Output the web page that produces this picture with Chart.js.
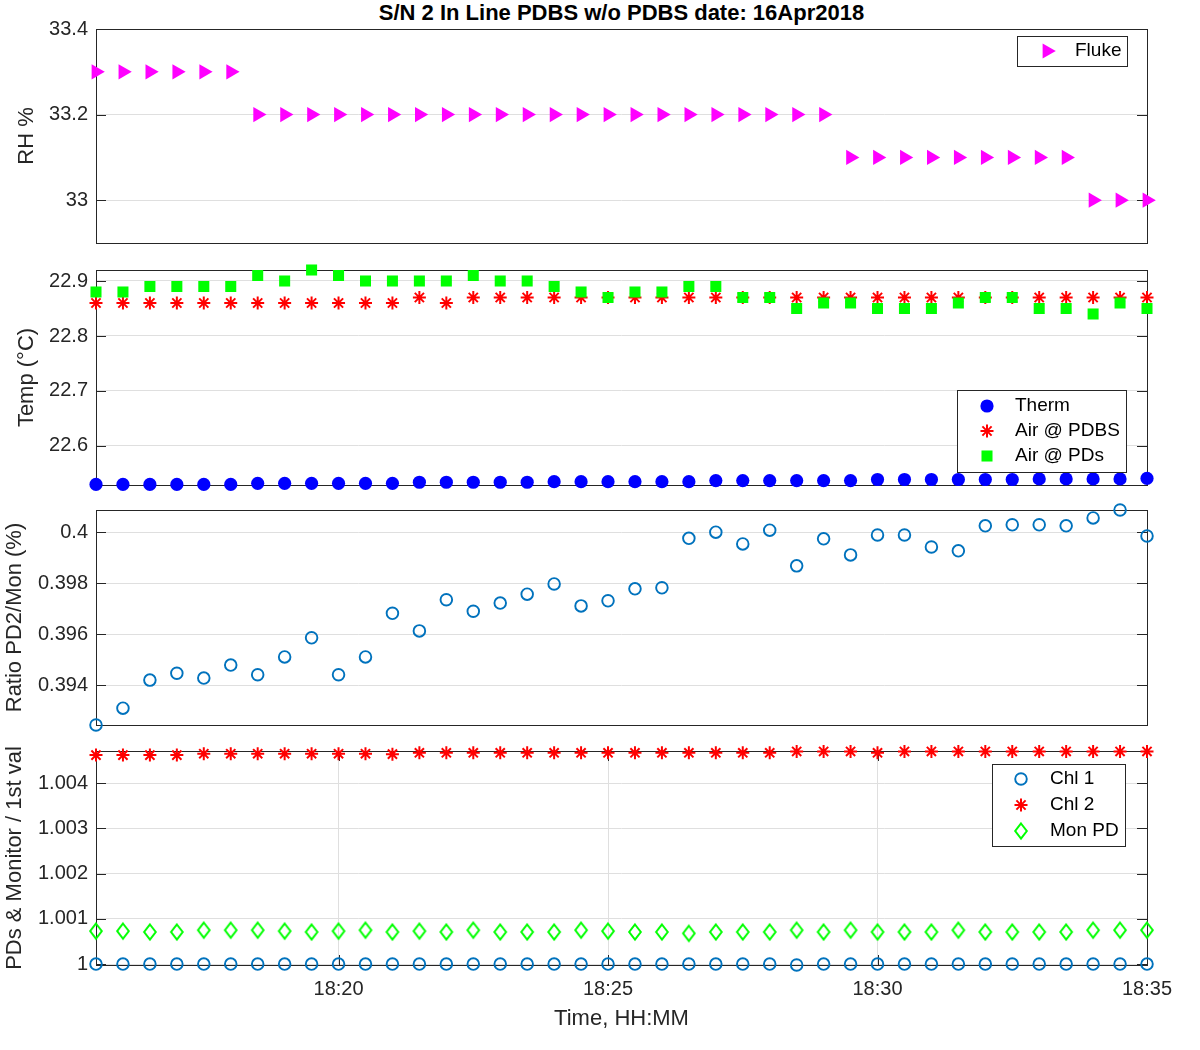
<!DOCTYPE html>
<html lang="en">
<head>
<meta charset="UTF-8">
<title>S/N 2 In Line PDBS w/o PDBS</title>
<style>
  body { margin: 0; background: #fff; font-family: "Liberation Sans", Arial, sans-serif; }
  #wrap { position: relative; width: 1200px; height: 1050px; }
  canvas { position: absolute; left: 0; }
  #title { position: absolute; left: 96px; width: 1051px; top: 0; line-height: 26px; text-align: center;
           font-weight: bold; font-size: 22px; color: #000; }
</style>
<script src="https://cdn.jsdelivr.net/npm/chart.js"></script>
</head>
<body>
<div id="wrap">
  <div id="title">S/N 2 In Line PDBS w/o PDBS date: 16Apr2018</div>
  <canvas id="rh" width="1200" height="256" style="top:0"></canvas>
  <canvas id="temp" width="1200" height="244" style="top:256px"></canvas>
  <canvas id="ratio" width="1200" height="238" style="top:500px"></canvas>
  <canvas id="pds" width="1200" height="312" style="top:738px"></canvas>
</div>
<script>
// sample times (every 30 s)
const times = [
  '18:15:30','18:16:00','18:16:30','18:17:00','18:17:30','18:18:00','18:18:30','18:19:00','18:19:30','18:20:00',
  '18:20:30','18:21:00','18:21:30','18:22:00','18:22:30','18:23:00','18:23:30','18:24:00','18:24:30','18:25:00',
  '18:25:30','18:26:00','18:26:30','18:27:00','18:27:30','18:28:00','18:28:30','18:29:00','18:29:30','18:30:00',
  '18:30:30','18:31:00','18:31:30','18:32:00','18:32:30','18:33:00','18:33:30','18:34:00','18:34:30','18:35:00'
];
const timeTicks = ['18:20', '18:25', '18:30', '18:35'];

// panel 1: RH
const fluke = [
  33.3, 33.3, 33.3, 33.3, 33.3, 33.3, 33.2, 33.2, 33.2, 33.2,
  33.2, 33.2, 33.2, 33.2, 33.2, 33.2, 33.2, 33.2, 33.2, 33.2,
  33.2, 33.2, 33.2, 33.2, 33.2, 33.2, 33.2, 33.2, 33.1, 33.1,
  33.1, 33.1, 33.1, 33.1, 33.1, 33.1, 33.1, 33.0, 33.0, 33.0
];
const rhTicks = [33, 33.2, 33.4];

// panel 2: temperatures
const therm = [
  22.530, 22.530, 22.530, 22.530, 22.530, 22.530, 22.532, 22.532, 22.532, 22.532,
  22.532, 22.532, 22.534, 22.534, 22.534, 22.534, 22.534, 22.535, 22.535, 22.535,
  22.535, 22.535, 22.535, 22.537, 22.537, 22.537, 22.537, 22.537, 22.537, 22.539,
  22.539, 22.539, 22.539, 22.539, 22.539, 22.540, 22.540, 22.540, 22.540, 22.541
];
const airPdbs = [
  22.86, 22.86, 22.86, 22.86, 22.86, 22.86, 22.86, 22.86, 22.86, 22.86,
  22.86, 22.86, 22.87, 22.86, 22.87, 22.87, 22.87, 22.87, 22.87, 22.87,
  22.87, 22.87, 22.87, 22.87, 22.87, 22.87, 22.87, 22.87, 22.87, 22.87,
  22.87, 22.87, 22.87, 22.87, 22.87, 22.87, 22.87, 22.87, 22.87, 22.87
];
const airPds = [
  22.88, 22.88, 22.89, 22.89, 22.89, 22.89, 22.91, 22.90, 22.92, 22.91,
  22.90, 22.90, 22.90, 22.90, 22.91, 22.90, 22.90, 22.89, 22.88, 22.87,
  22.88, 22.88, 22.89, 22.89, 22.87, 22.87, 22.85, 22.86, 22.86, 22.85,
  22.85, 22.85, 22.86, 22.87, 22.87, 22.85, 22.85, 22.84, 22.86, 22.85
];
const tempTicks = [22.6, 22.7, 22.8, 22.9];

// panel 3: ratio PD2 / monitor
const ratio = [
  0.39244, 0.39310, 0.39420, 0.39447, 0.39428, 0.39479, 0.39441, 0.39511, 0.39586, 0.39441,
  0.39511, 0.39682, 0.39613, 0.39735, 0.39690, 0.39722, 0.39757, 0.39797, 0.39711, 0.39731,
  0.39778, 0.39782, 0.39976, 0.40000, 0.39954, 0.40008, 0.39868, 0.39974, 0.39911, 0.39989,
  0.39989, 0.39942, 0.39927, 0.40025, 0.40029, 0.40029, 0.40025, 0.40056, 0.40087, 0.39985
];
const ratioTicks = [0.394, 0.396, 0.398, 0.4];

// panel 4: normalised signals
const chl1 = [
  1, 1, 1, 1, 1, 1, 1, 1, 1, 1,
  1, 1, 1, 1, 1, 1, 1, 1, 1, 1,
  1, 1, 1, 1, 1, 1, 0.99998, 1, 1, 1,
  1, 1, 1, 1, 1, 1, 1, 1, 1, 1
];
const chl2 = [
  1.00462, 1.00462, 1.00462, 1.00462, 1.00465, 1.00465, 1.00465, 1.00465, 1.00465, 1.00465,
  1.00465, 1.00464, 1.00467, 1.00467, 1.00467, 1.00467, 1.00467, 1.00467, 1.00467, 1.00467,
  1.00467, 1.00467, 1.00467, 1.00467, 1.00467, 1.00467, 1.00470, 1.00470, 1.00470, 1.00467,
  1.00470, 1.00470, 1.00470, 1.00470, 1.00470, 1.00470, 1.00470, 1.00470, 1.00470, 1.00470
];
const monPd = [
  1.00073, 1.00073, 1.00071, 1.00071, 1.00075, 1.00075, 1.00075, 1.00073, 1.00071, 1.00073,
  1.00075, 1.00071, 1.00073, 1.00071, 1.00075, 1.00071, 1.00071, 1.00071, 1.00075, 1.00073,
  1.00071, 1.00071, 1.00068, 1.00071, 1.00071, 1.00071, 1.00075, 1.00071, 1.00075, 1.00071,
  1.00071, 1.00071, 1.00075, 1.00071, 1.00071, 1.00071, 1.00071, 1.00075, 1.00075, 1.00075
];
const pdTicks = [1, 1.001, 1.002, 1.003, 1.004];

const AXIS = '#262626';
const GRID = '#dfdfdf';
const FONT = '"Liberation Sans", Arial, Helvetica, sans-serif';
Chart.defaults.font.family = FONT;
Chart.defaults.color = AXIS;

function toMin(t) {
  const p = t.split(':').map(Number);
  return p[0] * 60 + p[1] + (p[2] || 0) / 60;
}
function fmtMin(m) {
  const h = Math.floor(m / 60);
  return h + ':' + String(Math.round(m - h * 60)).padStart(2, '0');
}
const xs = times.map(toMin);
function pts(vals) { return vals.map((v, i) => ({ x: xs[i], y: v })); }

// tall open diamond like matlab's 'd' marker
function diamond(color) {
  const c = document.createElement('canvas');
  c.width = 16; c.height = 20;
  const g = c.getContext('2d');
  g.strokeStyle = color; g.lineWidth = 2;
  g.beginPath();
  g.moveTo(8, 2.5); g.lineTo(13.8, 10); g.lineTo(8, 17.5); g.lineTo(2.2, 10);
  g.closePath(); g.stroke();
  return c;
}

// axes box + inward ticks
const framePlugin = {
  id: 'frame',
  beforeDatasetsDraw(chart, args, opts) {
    const { ctx, chartArea: a, scales } = chart;
    const tl = 10;
    ctx.save();
    ctx.strokeStyle = AXIS;
    ctx.lineWidth = 1;
    ctx.strokeRect(Math.round(a.left) + 0.5, Math.round(a.top) + 0.5, Math.round(a.width), Math.round(a.height));
    ctx.beginPath();
    scales.y.ticks.forEach(t => {
      const y = Math.round(scales.y.getPixelForValue(t.value)) + 0.5;
      ctx.moveTo(a.left, y); ctx.lineTo(a.left + tl, y);
      ctx.moveTo(a.right - tl, y); ctx.lineTo(a.right, y);
    });
    if (opts.xTicks) {
      scales.x.ticks.forEach(t => {
        const x = Math.round(scales.x.getPixelForValue(t.value)) + 0.5;
        ctx.moveTo(x, a.bottom); ctx.lineTo(x, a.bottom - tl);
        ctx.moveTo(x, a.top); ctx.lineTo(x, a.top + tl);
      });
    }
    ctx.stroke();
    ctx.restore();
  }
};

// boxed legend inside the axes
const legendPlugin = {
  id: 'boxLegend',
  afterDatasetsDraw(chart, args, opts) {
    if (!opts || !opts.w) return;
    const ctx = chart.ctx;
    const sets = chart.data.datasets;
    ctx.save();
    ctx.fillStyle = '#fff';
    ctx.fillRect(opts.x, opts.y, opts.w, opts.h);
    ctx.strokeStyle = AXIS;
    ctx.lineWidth = 1;
    ctx.strokeRect(opts.x + 0.5, opts.y + 0.5, opts.w, opts.h);
    const first = opts.y + (opts.h - (sets.length - 1) * opts.pitch) / 2;
    sets.forEach((d, i) => {
      const cy = first + i * opts.pitch;
      ctx.fillStyle = d.backgroundColor;
      ctx.strokeStyle = d.borderColor;
      ctx.lineWidth = d.borderWidth || 1;
      Chart.helpers.drawPoint(ctx, {
        pointStyle: d.pointStyle, rotation: d.pointRotation || 0,
        radius: d.pointRadius, borderWidth: d.borderWidth
      }, opts.x + opts.mx, cy);
      ctx.fillStyle = '#000';
      ctx.font = '19px ' + FONT;
      ctx.textAlign = 'left';
      ctx.textBaseline = 'middle';
      ctx.fillText(d.label, opts.x + opts.tx, cy);
    });
    ctx.restore();
  }
};

function panel(id, cfg) {
  return new Chart(document.getElementById(id), {
    type: 'scatter',
    data: { datasets: cfg.datasets },
    options: {
      responsive: false,
      animation: false,
      events: [],
      layout: { padding: { top: cfg.padTop, right: 53, bottom: cfg.padBottom, left: 0 } },
      plugins: {
        legend: { display: false },
        tooltip: { enabled: false },
        boxLegend: cfg.legend || {},
        frame: { xTicks: !!cfg.showX }
      },
      scales: {
        x: {
          type: 'linear',
          min: xs[0],
          max: xs[xs.length - 1],
          display: !!cfg.showX,
          afterBuildTicks: s => { s.ticks = timeTicks.map(t => ({ value: toMin(t) })); },
          afterFit: s => { s.height = cfg.showX ? 85 : 0; },
          ticks: { autoSkip: false, maxRotation: 0, padding: 12, font: { size: 20 }, color: AXIS,
                   callback: v => fmtMin(v) },
          grid: { color: GRID, drawTicks: false },
          border: { display: false },
          title: { display: true, text: 'Time, HH:MM', font: { size: 22 }, color: AXIS,
                   padding: { top: 0, bottom: 18 } }
        },
        y: {
          min: cfg.yMin,
          max: cfg.yMax,
          afterBuildTicks: s => { s.ticks = cfg.yTicks.map(v => ({ value: v })); },
          afterFit: s => { s.width = 96; s.paddingTop = 0; s.paddingBottom = 0; },
          ticks: { autoSkip: false, padding: 8, font: { size: 20 }, color: AXIS,
                   callback: v => String(+v.toFixed(6)) },
          grid: { color: GRID, drawTicks: false },
          border: { display: false },
          title: { display: true, text: cfg.yTitle, font: { size: 22 }, color: AXIS,
                   padding: { top: cfg.titlePad, bottom: 0 } }
        }
      }
    },
    plugins: [framePlugin, legendPlugin]
  });
}

panel('rh', {
  padTop: 29, padBottom: 13, yMin: 32.9, yMax: 33.4, yTicks: rhTicks, yTitle: 'RH %', titlePad: 14,
  legend: { x: 1017, y: 36, w: 110, h: 30, pitch: 25, mx: 30, tx: 58 },
  datasets: [
    { label: 'Fluke', data: pts(fluke), pointStyle: 'triangle', pointRotation: 90, pointRadius: 8.8,
      backgroundColor: '#ff00ff', borderColor: '#ff00ff', borderWidth: 0, clip: false }
  ]
});

panel('temp', {
  padTop: 14, padBottom: 15, yMin: 22.529, yMax: 22.92, yTicks: tempTicks, yTitle: 'Temp (\u00B0C)', titlePad: 14,
  legend: { x: 957, y: 134, w: 169, h: 82, pitch: 25, mx: 30, tx: 58 },
  datasets: [
    { label: 'Therm', data: pts(therm), pointStyle: 'circle', pointRadius: 6.6, order: 2,
      backgroundColor: '#0000ff', borderColor: '#0000ff', borderWidth: 0, clip: false },
    { label: 'Air @ PDBS', data: pts(airPdbs), pointStyle: 'star', pointRadius: 6.5, order: 1,
      backgroundColor: '#ff0000', borderColor: '#ff0000', borderWidth: 2, clip: false },
    { label: 'Air @ PDs', data: pts(airPds), pointStyle: 'rect', pointRadius: 7.8, order: 0,
      backgroundColor: '#00ff00', borderColor: '#00ff00', borderWidth: 0, clip: false }
  ]
});

panel('ratio', {
  padTop: 10, padBottom: 13, yMin: 0.39244, yMax: 0.40087, yTicks: ratioTicks, yTitle: 'Ratio PD2/Mon (%)', titlePad: 2,
  datasets: [
    { label: 'Ratio', data: pts(ratio), pointStyle: 'circle', pointRadius: 5.8,
      backgroundColor: 'rgba(0,0,0,0)', borderColor: '#0072bd', borderWidth: 1.9, clip: false }
  ]
});

panel('pds', {
  padTop: 13, padBottom: 0, yMin: 0.99998, yMax: 1.00471, yTicks: pdTicks, yTitle: 'PDs & Monitor / 1st val', titlePad: 2,
  showX: true,
  legend: { x: 992, y: 26, w: 133, h: 82, pitch: 26, mx: 29, tx: 58 },
  datasets: [
    { label: 'Chl 1', data: pts(chl1), pointStyle: 'circle', pointRadius: 5.8,
      backgroundColor: 'rgba(0,0,0,0)', borderColor: '#0072bd', borderWidth: 1.9, clip: false },
    { label: 'Chl 2', data: pts(chl2), pointStyle: 'star', pointRadius: 6.5,
      backgroundColor: '#ff0000', borderColor: '#ff0000', borderWidth: 2, clip: false },
    { label: 'Mon PD', data: pts(monPd), pointStyle: diamond('#00ff00'), pointRadius: 8,
      backgroundColor: 'rgba(0,0,0,0)', borderColor: '#00ff00', borderWidth: 2, clip: false }
  ]
});
</script>
</body>
</html>
